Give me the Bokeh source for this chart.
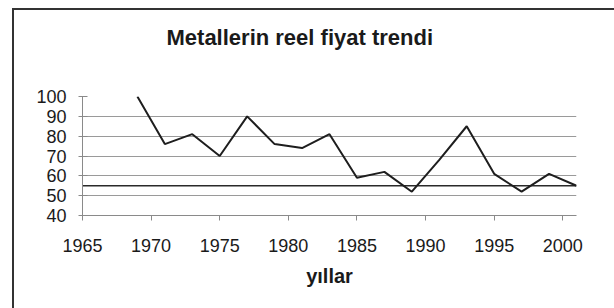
from bokeh.plotting import figure
from bokeh.models import Range1d, FixedTicker, LinearAxis, Title
from bokeh.embed import file_html
from bokeh.resources import INLINE

# Data
years = [1969, 1971, 1973, 1975, 1977, 1979, 1981, 1983, 1985, 1987,
         1989, 1991, 1993, 1995, 1997, 1999, 2001]
prices = [100, 76, 81, 70, 90, 76, 74, 81, 59, 62,
          52, 68, 85, 61, 52, 61, 55]
trend_years = [1965, 2001]
trend_values = [55, 55]
x_ticks = [1965, 1970, 1975, 1980, 1985, 1990, 1995, 2000]
y_ticks = [40, 50, 60, 70, 80, 90, 100]
title_text = "Metallerin reel fiyat trendi"
x_label = "yıllar"

FONT = "Liberation Sans"
TXT = "#1a1a1a"
BORDER = "#333333"

p = figure(width=614, height=308, output_backend="svg", toolbar_location=None,
           x_range=Range1d(1965, 2001), y_range=Range1d(40, 100),
           min_border_left=82, min_border_right=38,
           min_border_top=96, min_border_bottom=93)
p.outline_line_color = None
p.background_fill_color = "white"
p.border_fill_color = None
p.styles = {
    "background": (f"linear-gradient({BORDER},{BORDER}) 12px 8px / 2px 100% no-repeat, "
                   f"linear-gradient({BORDER},{BORDER}) 12px 8px / 100% 2px no-repeat, white"),
}

# grid
p.xgrid.grid_line_color = None
p.ygrid.grid_line_color = "#9a9a9a"
p.ygrid.grid_line_width = 1
p.ygrid.ticker = FixedTicker(ticks=y_ticks)

# x axis
p.xaxis.ticker = FixedTicker(ticks=x_ticks)
p.xaxis.axis_line_color = "#8a8a8a"
p.xaxis.major_tick_line_color = "#8a8a8a"
p.xaxis.major_tick_in = 0
p.xaxis.major_tick_out = 5
p.xaxis.minor_tick_line_color = None
p.xaxis.major_label_text_font = FONT
p.xaxis.major_label_text_font_size = "18px"
p.xaxis.major_label_text_color = TXT
p.xaxis.major_label_standoff = 18
p.xaxis.axis_label = x_label
p.xaxis.axis_label_text_font = FONT
p.xaxis.axis_label_text_font_style = "bold"
p.xaxis.axis_label_text_font_size = "20px"
p.xaxis.axis_label_text_color = TXT
p.xaxis.axis_label_standoff = 10

# y axis
p.yaxis.ticker = FixedTicker(ticks=y_ticks)
p.yaxis.axis_line_color = "#8a8a8a"
p.yaxis.major_tick_line_color = "#8a8a8a"
p.yaxis.major_tick_in = 5
p.yaxis.major_tick_out = 4
p.yaxis.minor_tick_line_color = None
p.yaxis.major_label_text_font = FONT
p.yaxis.major_label_text_font_size = "18px"
p.yaxis.major_label_text_color = TXT
p.yaxis.major_label_standoff = 12

# trend line and series
p.line(trend_years, trend_values, line_color="#2a2a2a", line_width=1.6)
p.line(years, prices, line_color="#1e1e1e", line_width=2)

# invisible spacer axis above the frame, then the chart title above it
spacer = LinearAxis(ticker=FixedTicker(ticks=[1965]),
                    axis_line_color=None, major_tick_line_color=None,
                    minor_tick_line_color=None, major_tick_in=0,
                    major_tick_out=47, minor_tick_out=0,
                    major_label_standoff=0, major_label_text_font_size="0px",
                    major_label_text_color=None)
p.add_layout(spacer, "above")
p.add_layout(Title(text=title_text, align="left", offset=84, standoff=0,
                   vertical_align="bottom", text_font=FONT,
                   text_font_style="bold", text_font_size="22px",
                   text_color=TXT), "above")

open("out.html", "w").write(file_html(p, INLINE))
